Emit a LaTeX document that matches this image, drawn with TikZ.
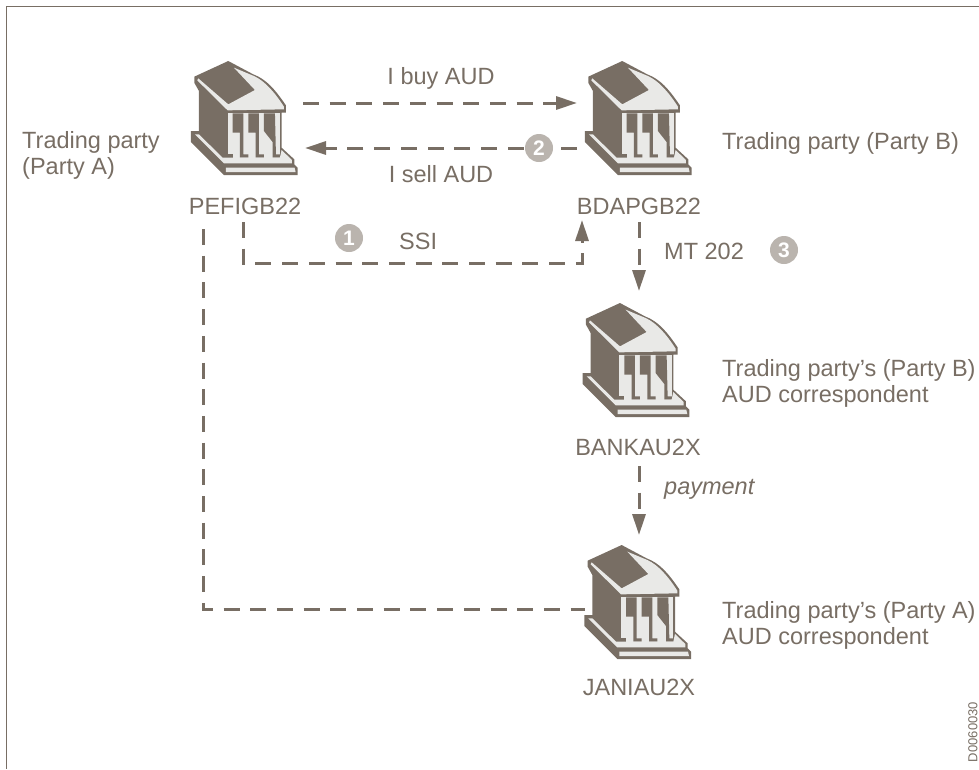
\documentclass[tikz,border=0pt]{standalone}
\usepackage{fontspec}
\setmainfont{Liberation Sans}
\usetikzlibrary{arrows.meta}
\definecolor{bankdark}{HTML}{786E64}
\definecolor{banklight}{HTML}{E9E9E7}
\definecolor{badgegrey}{HTML}{BAB4AE}
\tikzset{flow/.style={draw=bankdark,line width=3pt,dash pattern=on 16pt off 10.7pt}}
\tikzset{arrow/.style={flow,-{Triangle[length=21pt,width=13pt]}}}
\tikzset{label/.style={text=bankdark,font=\fontsize{23.5}{26}\selectfont,inner sep=0pt,align=left}}
\tikzset{badge/.style={circle,fill=badgegrey,text=white,inner sep=0pt,minimum size=28pt,font=\fontsize{21}{21}\selectfont\bfseries}}
\tikzset{bank/.pic={
	\begin{scope}[scale=1/3]
	\fill[bankdark] (245,135) -- (143,182) -- (143,200) -- (157,225) -- (157,345) -- (133,345) -- (133,378) -- (232,477) -- (453,477) -- (453,455) -- (443,445) -- (443,430) -- (405,395) -- (405,290) -- (418,290) -- (418,268) .. controls (385,220) and (360,190) .. (320,175) -- cycle;
	%% roof
	\fill[banklight] (152,193) -- (243,283) -- (412,280) -- (412,272) .. controls (385,230) and (355,195) .. (322,180) -- (262,155) -- (325,222) -- (245,265) -- (155,187) -- cycle;
	%% columns
	\fill[banklight] (243,292) rectangle (400,425);
	\fill[bankdark] (258,292) -- (290,292) -- (290,415) -- (305,415) -- (305,425) -- (280,425) -- (280,350) -- (258,350) -- cycle;
	\fill[bankdark] (305,292) -- (337,292) -- (337,415) -- (352,415) -- (352,425) -- (327,425) -- (327,350) -- (305,350) -- cycle;
	\fill[bankdark] (352,292) -- (385,292) -- (388,415) -- (402,415) -- (402,425) -- (378,425) -- (378,378) -- (352,345) -- cycle;
	\fill[bankdark] (243,415) rectangle (258,425);
	%% base
	\fill[banklight] (145,355) -- (157,355) -- (228,425) -- (400,425) -- (405,402) -- (436,432) -- (436,442) -- (232,442) -- cycle;
	\fill[banklight] (238,455) -- (444,455) -- (447,468) -- (238,468) -- cycle;
	\end{scope}
}}

\begin{document}
\begin{tikzpicture}[x=1pt,y=-1pt]

	%% Frame
	\useasboundingbox (0,0) rectangle (979,769);
	\draw[bankdark,line width=1.5pt] (979,6.5) -- (6.5,6.5) -- (6.5,769);
	%%

	%% Banks
	\pic at (146.6,16) {bank};
	\pic at (540.6,16) {bank};
	\pic at (538.3,258) {bank};
	\pic at (540,500) {bank};
	\node[label,anchor=center] (codeA) at (245,206) {PEFIGB22};
	\node[label,anchor=center] (codeB) at (639,206) {BDAPGB22};
	\node[label,anchor=center] (codeC) at (638,447) {BANKAU2X};
	\node[label,anchor=center] (codeD) at (639,687) {JANIAU2X};
	%%

	%% Connector ends
	\coordinate (buyA) at (303,103);
	\coordinate (buyB) at (577,103);
	\coordinate (sellB) at (577,148);
	\coordinate (sellA) at (305,148);
	\coordinate (ssiA) at (243,222);
	\coordinate (ssiB) at (582,220);
	\coordinate (mtB) at (639,222);
	\coordinate (mtC) at (639,291);
	\coordinate (payC) at (639,466);
	\coordinate (payD) at (639,535);
	\coordinate (longA) at (203,229);
	\coordinate (longD) at (585,609);
	%%

	\draw[arrow] (buyA) -- (buyB);
	\draw[arrow] (sellB) -- (sellA);
	\draw[arrow] (ssiA) |- (ssiB |- 0,263) -- (ssiB);
	\draw[arrow] (mtB) -- (mtC);
	\draw[arrow] (payC) -- (payD);
	\draw[flow] (longA) |- (longD);

	\node[badge] (one) at (349,238) {1};
	\node[badge] (two) at (539,148) {2};
	\node[badge] (three) at (784,250) {3};

	\node[label,anchor=center] (buy) at (441,78) {I buy AUD};
	\node[label,anchor=center] (sell) at (441,174) {I sell AUD};
	\node[label,anchor=west] (ssi) at (399,241) {SSI};
	\node[label,anchor=west] (mt) at (664,251) {MT 202};
	\node[label,anchor=west] (pay) at (664,489) {\itshape payment};
	\node[label,anchor=west] (partyA) at (22,155) {Trading party\\(Party A)};
	\node[label,anchor=west] (partyB) at (722,143) {Trading party (Party B)};
	\node[label,anchor=west] (corrB) at (722,383) {Trading party's (Party B)\\AUD correspondent};
	\node[label,anchor=west] (corrA) at (722,625) {Trading party's (Party A)\\AUD correspondent};
	\node[text=bankdark,font=\fontsize{13}{14}\selectfont,inner sep=0pt,rotate=90] (ref) at (973,732) {D0060030};

\end{tikzpicture}
\end{document}
